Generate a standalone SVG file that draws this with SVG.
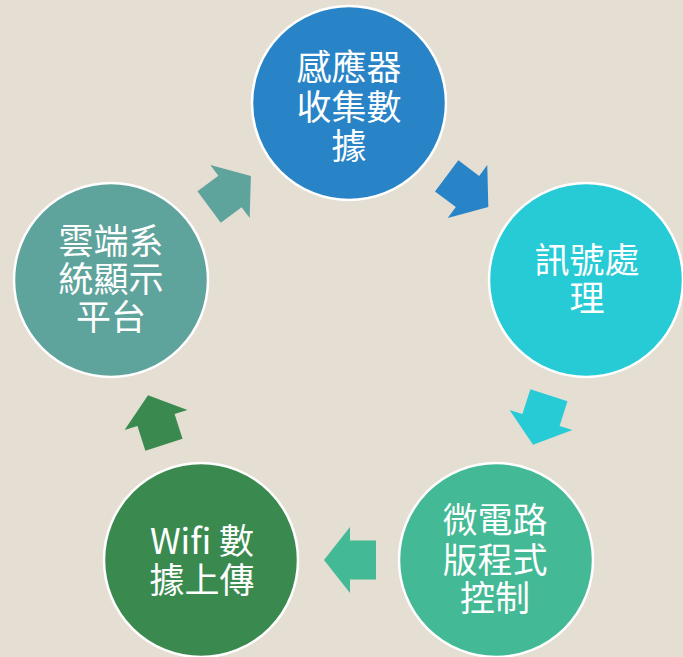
<svg xmlns="http://www.w3.org/2000/svg" width="683" height="657" viewBox="0 0 683 657">
<defs>
<style>
.node{stroke:#ffffff;stroke-width:2.5}
.t{font-family:"Noto Sans CJK TC","Noto Sans CJK SC",sans-serif;font-size:35px;fill:#ffffff;text-anchor:middle}
</style>
<path id="arr" d="M-26,-19.5 L0,-19.5 L0,-33 L26,0 L0,33 L0,19.5 L-26,19.5 Z"/>
</defs>
<rect width="683" height="657" fill="#e4ded3"/>
<g id="connectors">
<use href="#arr" fill="#2884c6" transform="translate(467.5,191.5) rotate(36.8)"/>
<use href="#arr" fill="#27cbd6" transform="translate(541,420) rotate(107.8)"/>
<use href="#arr" fill="#44b995" transform="translate(350,560) rotate(180)"/>
<use href="#arr" fill="#3a8a4f" transform="translate(156,420) rotate(-107.8)"/>
<use href="#arr" fill="#5fa49c" transform="translate(230,191.5) rotate(-36.6)"/>
</g>
<g id="n1">
<circle class="node" cx="349" cy="103" r="97" fill="#2884c6"/>
<text class="t" x="349" y="80">感應器</text>
<text class="t" x="349" y="120">收集數</text>
<text class="t" x="349" y="159">據</text>
</g>
<g id="n2">
<circle class="node" cx="586" cy="280" r="97" fill="#27cbd6"/>
<text class="t" x="587" y="273">訊號處</text>
<text class="t" x="587" y="311">理</text>
</g>
<g id="n3">
<circle class="node" cx="496" cy="560" r="97" fill="#44b995"/>
<text class="t" x="495" y="533">微電路</text>
<text class="t" x="495" y="573">版程式</text>
<text class="t" x="495" y="611">控制</text>
</g>
<g id="n4">
<circle class="node" cx="201" cy="560" r="97" fill="#3a8a4f"/>
<text class="t" x="202" y="554">Wifi 數</text>
<text class="t" x="202" y="593">據上傳</text>
</g>
<g id="n5">
<circle class="node" cx="111" cy="280" r="97" fill="#5fa49c"/>
<text class="t" x="111" y="254">雲端系</text>
<text class="t" x="111" y="292">統顯示</text>
<text class="t" x="111" y="330">平台</text>
</g>
</svg>
